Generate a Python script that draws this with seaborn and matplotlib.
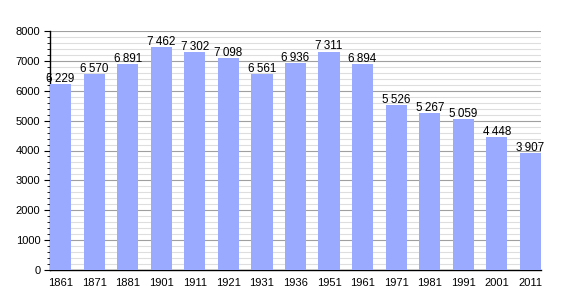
import matplotlib
matplotlib.use("Agg")
import matplotlib.pyplot as plt
import seaborn as sns
import pandas as pd
from matplotlib.ticker import MultipleLocator

years = ["1861", "1871", "1881", "1901", "1911", "1921", "1931", "1936",
         "1951", "1961", "1971", "1981", "1991", "2001", "2011"]
population = [6229, 6570, 6891, 7462, 7302, 7098, 6561, 6936,
              7311, 6894, 5526, 5267, 5059, 4448, 3907]

df = pd.DataFrame({"year": years, "pop": population})

sns.set_style("white")
plt.rcParams['font.family'] = ['Liberation Sans', 'DejaVu Sans']
plt.rcParams['text.color'] = 'black'
plt.rcParams['xtick.color'] = 'black'
plt.rcParams['ytick.color'] = 'black'

fig = plt.figure(figsize=(5.7, 3.0), dpi=100)
ax = fig.add_axes([50/570, 0.1, (541-50)/570, (270-31)/300])

sns.barplot(data=df, x="year", y="pop", color="#99aaff", saturation=1,
            width=0.63, linewidth=0, edgecolor="none", ax=ax, zorder=3)

ax.set_xlim(-0.315, 14.315)
ax.set_ylim(0, 8000)
ax.yaxis.set_major_locator(MultipleLocator(1000))
ax.yaxis.set_minor_locator(MultipleLocator(200))
ax.grid(which="major", axis="y", color="#a0a0a0", linewidth=0.8, zorder=0)
ax.grid(which="minor", axis="y", color="#dedede", linewidth=0.8, zorder=0)
ax.set_axisbelow(True)

for s in ["top", "right"]:
    ax.spines[s].set_visible(False)
for s in ["left", "bottom"]:
    ax.spines[s].set_color("black")
    ax.spines[s].set_linewidth(1.0)

ax.tick_params(axis="y", which="major", left=True, length=4, width=0.8,
               labelsize=8, pad=3, labelcolor="black")
ax.tick_params(axis="y", which="minor", left=True, length=2, width=0.6)
ax.tick_params(axis="x", bottom=False, labelsize=8, pad=2, labelcolor="black")
ax.set_xlabel("")
ax.set_ylabel("")

for i, v in enumerate(population):
    label = f"{v:,}".replace(",", "\u2009")
    ax.text(i, v - 30, label, ha="center", va="bottom", fontsize=8.4,
            color="black", zorder=4)

fig.savefig("out.png", dpi=100)
